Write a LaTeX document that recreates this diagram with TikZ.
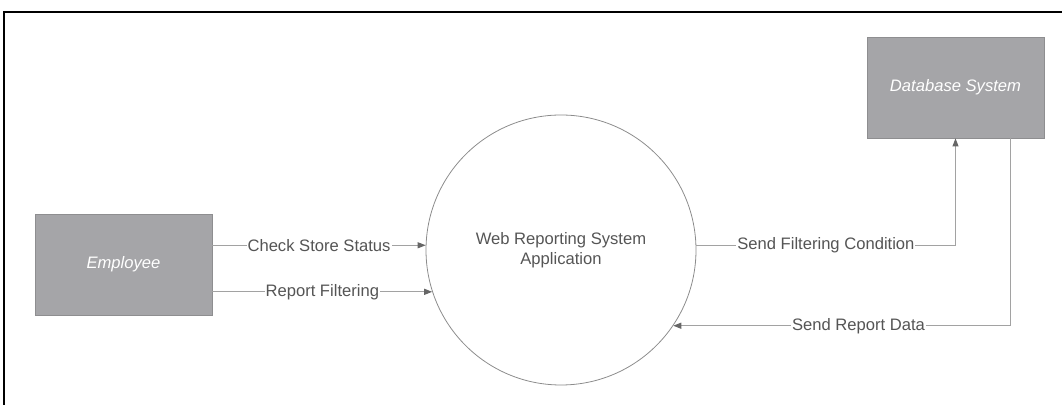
\documentclass[tikz,border=0pt]{standalone}
\usepackage{fontspec}
\setmainfont{Liberation Sans}
\usepackage{tikz}
\usetikzlibrary{shapes}
\usetikzlibrary{positioning}
\usetikzlibrary{arrows.meta}
\usepackage{xcolor}
\definecolor{boxgray}{HTML}{A5A5A8}
\definecolor{boxedge}{HTML}{8E8E90}
\definecolor{linegray}{HTML}{A2A2A2}
\definecolor{textgray}{HTML}{555555}

\begin{document}
\begin{tikzpicture}[x=0.5pt,y=-0.5pt,
  font=\fontsize{8.3}{10}\selectfont,
  entity/.style={rectangle,fill=boxgray,draw=boxedge,line width=0.4pt,minimum width=88.5pt,minimum height=50.5pt,text=white,font=\fontsize{8.3}{10}\selectfont\itshape},
  process/.style={circle,draw=gray!90,line width=0.4pt,minimum size=135pt,text=textgray,align=center},
  flow/.style={draw=linegray,line width=0.5pt,-{Triangle[length=4pt,width=3pt,color=black!60]}},
  lbl/.style={fill=white,inner sep=0.5pt,text=textgray}]
\useasboundingbox (0,0) rectangle (1062,405);
\draw[line width=1pt] (4,405)--(4,12)--(1062,12); % frame
\node[entity] (emp) at (123.5,264.5) {Employee};
\node[entity] (db) at (955.5,87.5) {Database System};
\node[process] (app) at (561,250) {Web Reporting System\\Application};
\coordinate (dbout) at ([xshift=27.25pt]db.south);
\draw[flow] (emp.east |- app.178) -- node[lbl] {Check Store Status} (app.178);
\draw[flow] (emp.east |- app.198) -- node[lbl] {Report Filtering} (app.198);
\draw[flow] (app.2) -| node[lbl,pos=0.25] {Send Filtering Condition} (db.south);
\draw[flow] (dbout) |- node[lbl,pos=0.725] {Send Report Data} (app.326);
\end{tikzpicture}
\end{document}
